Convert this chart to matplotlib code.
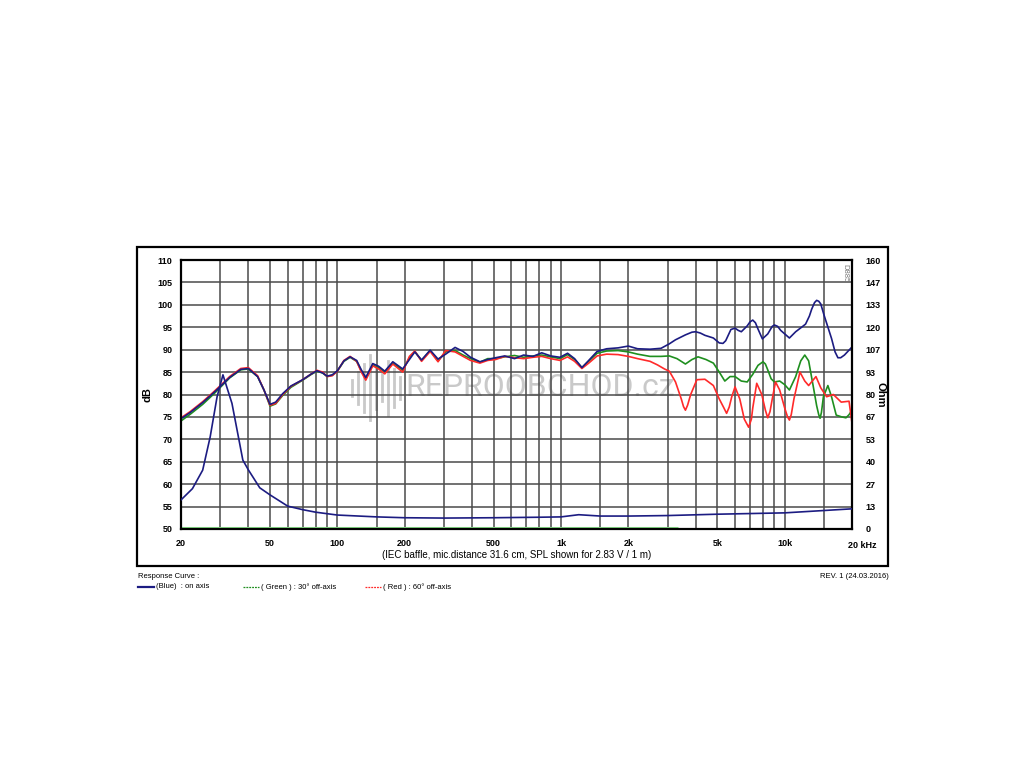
import matplotlib.pyplot as plt
from matplotlib.lines import Line2D
from matplotlib.patches import Rectangle

plt.rcParams['font.family'] = ['Liberation Sans', 'DejaVu Sans']

# frequencies shared by the three SPL curves below 2.2 kHz
freq_lf = [20, 22, 25, 28, 30, 33, 37, 40, 44, 47, 50, 53, 57, 62, 70, 76, 81, 86, 90, 95,
           100, 107, 114, 122, 128, 134, 144, 153, 163, 177, 196, 210, 222, 238, 260, 282,
           305, 336, 365, 394, 434, 470, 510, 560, 620, 680, 750, 820, 900, 990, 1070, 1150,
           1240, 1330, 1450, 1600, 1800, 2000, 2200]

# on-axis response (Blue)
spl_on_lf = [74.6, 76.0, 78.2, 80.4, 81.8, 83.8, 85.6, 85.8, 84.0, 81.0, 77.8, 78.3, 80.2,
             81.9, 83.3, 84.5, 85.3, 84.8, 84.1, 84.4, 85.3, 87.5, 88.4, 87.6, 85.5, 83.8,
             86.9, 86.3, 85.2, 87.3, 85.7, 87.8, 89.5, 87.7, 89.9, 87.9, 89.0, 90.5, 89.6,
             88.3, 87.3, 87.8, 88.2, 88.6, 88.0, 88.8, 88.5, 89.3, 88.6, 88.3, 89.2, 88.0,
             86.0, 87.6, 89.6, 90.2, 90.4, 90.8, 90.2]
freq_on_hf = [2500, 2800, 3050, 3250, 3600, 3850, 4000, 4200, 4400, 4800, 5100, 5300, 5450,
              5750, 6000, 6200, 6400, 6800, 7000, 7200, 7400, 7600, 7950, 8400, 8800, 9000,
              9300, 9600, 10500, 11200, 11900, 12400, 12900, 13200, 13600, 13900, 14200,
              14500, 15000, 16200, 16800, 17300, 17800, 18500, 20000]
spl_on_hf = [90.1, 90.3, 91.3, 92.2, 93.3, 93.9, 94.0, 93.7, 93.2, 92.6, 91.5, 91.4, 92.0,
             94.5, 94.8, 94.3, 94.0, 95.3, 96.2, 96.6, 96.0, 94.6, 92.4, 93.5, 95.2, 95.5,
             95.2, 94.3, 92.6, 94.0, 95.0, 95.7, 97.5, 99.0, 100.5, 101.0, 100.8, 100.2,
             97.7, 92.5, 89.5, 88.2, 88.2, 88.8, 90.6]

# 30 deg off-axis (Green)
spl_30_lf = [74.1, 75.6, 77.8, 80.1, 81.6, 83.7, 85.5, 85.7, 84.0, 81.0, 77.4, 77.9, 79.8,
             81.6, 83.2, 84.4, 85.2, 84.8, 84.0, 84.3, 85.2, 87.4, 88.3, 87.4, 85.3, 83.5,
             86.6, 86.0, 85.0, 87.0, 85.4, 88.2, 89.6, 87.6, 89.8, 87.5, 89.5, 89.8, 88.8,
             88.0, 87.2, 88.0, 88.0, 88.4, 88.7, 88.3, 88.6, 88.8, 88.4, 88.0, 88.9, 87.8,
             86.0, 87.4, 89.2, 89.7, 89.8, 89.5, 89.0]
freq_30_hf = [2500, 2800, 3050, 3300, 3600, 3850, 4100, 4450, 4800, 5100, 5400, 5700, 6000,
              6400, 6800, 7200, 7600, 8000, 8200, 8400, 8700, 9000, 9500, 10000, 10500,
              11200, 11800, 12300, 12800, 13400, 13900, 14200, 14400, 14600, 14900, 15600,
              16200, 17000, 18000, 18800, 19400, 20000]
spl_30_hf = [88.5, 88.5, 88.6, 88.0, 86.8, 87.8, 88.4, 87.8, 87.0, 85.0, 83.0, 84.0, 84.0,
             83.0, 82.8, 84.5, 86.5, 87.3, 86.8, 85.5, 83.5, 82.8, 83.0, 82.2, 81.0, 84.0,
             87.5, 88.8, 87.5, 82.0, 77.5, 75.5, 74.7, 76.0, 79.5, 82.0, 79.5, 75.4, 75.0,
             74.8, 75.5, 76.5]

# 60 deg off-axis (Red)
spl_60_lf = [74.8, 76.2, 78.4, 80.6, 82.0, 84.0, 85.8, 86.0, 84.2, 81.0, 77.6, 78.0, 80.0,
             81.8, 83.3, 84.5, 85.4, 85.0, 84.0, 84.2, 85.2, 87.6, 88.5, 87.4, 85.0, 83.2,
             86.4, 85.7, 84.6, 86.8, 85.0, 88.5, 89.7, 87.4, 89.6, 87.3, 89.8, 89.5, 88.5,
             87.6, 87.0, 87.6, 87.8, 88.5, 88.2, 88.0, 88.3, 88.5, 88.0, 87.6, 88.4, 87.4,
             85.8, 87.0, 88.6, 89.0, 88.9, 88.5, 88.0]
freq_60_hf = [2500, 2700, 2900, 3050, 3250, 3450, 3530, 3600, 3680, 3800, 4050, 4400, 4800,
              5100, 5350, 5500, 5650, 5800, 6000, 6300, 6600, 6900, 7100, 7200, 7500, 7900,
              8200, 8400, 8600, 8800, 9100, 9500, 10000, 10300, 10500, 10700, 11000, 11700,
              12300, 12800, 13800, 14500, 15400, 16500, 17900, 19400, 20000]
spl_60_hf = [87.4, 86.6, 85.7, 85.2, 82.8, 79.0, 77.3, 76.5, 77.6, 80.0, 83.3, 83.4, 82.0,
             79.0, 77.0, 75.8, 77.2, 79.5, 81.7, 79.0, 74.5, 72.7, 74.5, 77.0, 82.5, 80.0,
             76.5, 74.8, 76.2, 79.0, 82.8, 81.0, 77.0, 75.0, 74.3, 75.5, 79.0, 85.0, 83.0,
             82.0, 84.0, 81.5, 79.5, 80.0, 78.3, 78.5, 73.6]

# impedance (Ohm, right axis)
freq_imp = [20, 22.5, 25, 27, 29, 30.8, 33.8, 37.8, 40, 45, 50, 60, 70, 80, 100, 150, 200,
            300, 500, 800, 1000, 1200, 1500, 2000, 3000, 5000, 10000, 15000, 20000]
ohm_imp = [17.3, 24.0, 35.0, 54.7, 78.7, 91.7, 74.7, 41.0, 35.2, 24.5, 20.3, 13.6, 11.5,
           10.0, 8.3, 7.2, 6.7, 6.5, 6.7, 7.0, 7.2, 8.5, 7.7, 7.7, 8.0, 8.8, 9.6, 11.0, 12.0]

# flat trace on the bottom edge
freq_base = [20, 3350]
spl_base = [50, 50]

x_labels = ['20', '50', '100', '200', '500', '1k', '2k', '5k', '10k', '']
x_label_freqs = [20, 50, 100, 200, 500, 1000, 2000, 5000, 10000, 20000]
grid_freqs = [20, 30, 40, 50, 60, 70, 80, 90, 100, 150, 200, 300, 400, 500, 600, 700, 800,
              900, 1000, 1500, 2000, 3000, 4000, 5000, 6000, 7000, 8000, 9000, 10000, 15000,
              20000]
db_ticks = [50, 55, 60, 65, 70, 75, 80, 85, 90, 95, 100, 105, 110]
ohm_labels = ['0', '13', '27', '40', '53', '67', '80', '93', '107', '120', '133', '147', '160']

navy = '#1c1c82'
green = '#1f8f1f'
red = '#ff2a2a'
gridc = '#4a4a4a'
wm = '#c9c9c9'

fig = plt.figure(figsize=(10.24, 7.68), dpi=100)
W, H = 1024, 768
ax = fig.add_axes([181 / W, 1 - 529 / H, (852 - 181) / W, (529 - 260) / H])

ax.set_xscale('log')
ax.set_xlim(20, 20000)
ax.set_ylim(50, 110)
ax.set_xticks(x_label_freqs, x_labels)
ax.set_xticks(grid_freqs, minor=True)
ax.xaxis.set_minor_formatter(plt.NullFormatter())
ax.set_yticks(db_ticks)
ax.grid(True, which='both', color=gridc, lw=1.1)
ax.tick_params(which='both', length=0)
ax.tick_params(axis='x', pad=7, labelsize=6.5)
ax.tick_params(axis='y', pad=6, labelsize=6.5)
for lab in ax.get_xticklabels() + ax.get_yticklabels():
    lab.set_fontweight('bold')
for s in ax.spines.values():
    s.set_linewidth(1.6)
    s.set_zorder(5)

ax.plot(freq_lf + freq_30_hf, spl_30_lf + spl_30_hf, color=green, lw=1.2, zorder=3)
ax.plot(freq_lf + freq_60_hf, spl_60_lf + spl_60_hf, color=red, lw=1.2, zorder=3)
ax.plot(freq_lf + freq_on_hf, spl_on_lf + spl_on_hf, color=navy, lw=1.2, zorder=4)
ax.plot(freq_base, [v + 0.25 for v in spl_base], color='#86dc86', lw=2.2, zorder=4,
        solid_capstyle='butt')

ax.annotate('20 kHz', xy=(20000, 0), xycoords=('data', 'axes fraction'),
            xytext=(-3, -9), textcoords='offset points', ha='left', va='top',
            fontsize=6.5, fontweight='bold')
ax.set_ylabel('dB', fontsize=8, fontweight='bold')
ax.yaxis.set_label_coords(-0.043, 0.5)
ax.text(0.5, -0.098, '(IEC baffle, mic.distance 31.6 cm, SPL shown for 2.83 V / 1 m)',
        transform=ax.transAxes, ha='center', va='center', fontsize=7)
ax.text(0.989, 0.985, 'D885', transform=ax.transAxes, rotation=270, ha='center', va='top',
        fontsize=5.5, color='#777777')

# watermark
ax.text(0.335, 0.525, 'REPROOBCHOD.cz', transform=ax.transAxes, ha='left', va='center',
        fontsize=23, color=wm, zorder=1, family=['Roboto', 'DejaVu Sans'])
bar_h = [0.03, 0.06, 0.09, 0.12, 0.08, 0.05, 0.1, 0.07, 0.04]
for i, h in enumerate(bar_h):
    xb = 0.255 + i * 0.009
    ax.plot([xb, xb], [0.525 - h, 0.525 + h], transform=ax.transAxes, color=wm,
            lw=2, zorder=1)

ax2 = ax.twinx()
ax2.set_ylim(0, 160)
ax2.set_yticks([i * 160 / 12 for i in range(13)], ohm_labels)
ax2.tick_params(length=0, pad=10, labelsize=6.5)
for lab in ax2.get_yticklabels():
    lab.set_fontweight('bold')
for s in ax2.spines.values():
    s.set_visible(False)
ax2.plot(freq_imp, ohm_imp, color=navy, lw=1.2, zorder=4)
ax2.set_ylabel('Ohm', fontsize=8, fontweight='bold', rotation=270, va='center')
ax2.yaxis.set_label_coords(1.042, 0.5)

# outer frame and footer
fig.add_artist(Rectangle((137 / W, 1 - 566 / H), (888 - 137) / W, (566 - 247) / H,
                         transform=fig.transFigure, fill=False, lw=1.6, color='black'))
fig.text(138 / W, 1 - 576 / H, 'Response Curve :', fontsize=5.5, va='center')
fig.text(889 / W, 1 - 576 / H, 'REV. 1 (24.03.2016)', fontsize=5.5, va='center', ha='right')
legend_items = [(138, navy, '-', 1.6, '(Blue)  : on axis'),
                (243, green, '--', 0.9, '( Green ) : 30° off-axis'),
                (365, red, '--', 0.9, '( Red ) : 60° off-axis')]
yl = 1 - 587 / H
for x0, c, ls, lw, txt in legend_items:
    fig.add_artist(Line2D([x0 / W, (x0 + 16) / W], [yl, yl], color=c, lw=lw, ls=ls,
                          dashes=(1.5, 0.8) if ls == '--' else (None, None)))
    fig.text((x0 + 18) / W, yl, txt, fontsize=5.5, va='center')

fig.savefig('out.png', dpi=100)
